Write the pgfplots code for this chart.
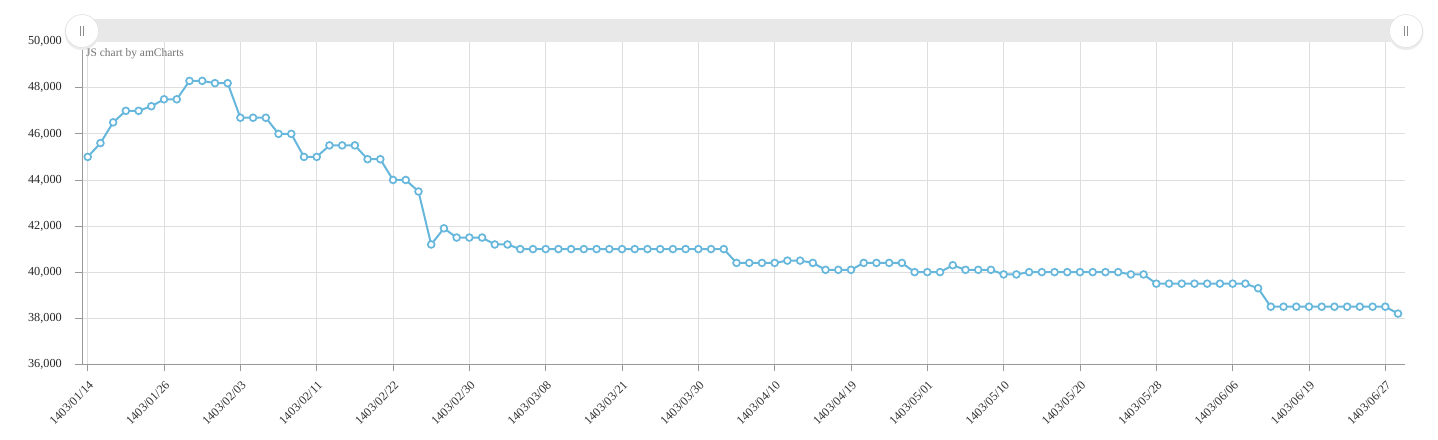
\documentclass[border=0pt]{standalone}
\usepackage{fontspec}
\setmainfont{Liberation Serif}
\usepackage{pgfplots}
\pgfplotsset{compat=1.18}
\definecolor{am}{HTML}{67B7DC}
\definecolor{gridc}{HTML}{DEDEDE}
\definecolor{axc}{HTML}{999999}
\definecolor{sbar}{HTML}{E8E8E8}

\begin{document}
\begin{tikzpicture}
\useasboundingbox (0,0) rectangle (1438bp,440bp);
\begin{axis}[
 at={(82bp,75.7bp)}, anchor=south west,
 scale only axis, width=1323bp, height=322.6bp,
 xmin=-0.45, xmax=103.55, ymin=36000, ymax=50000,
 ytick={36000,38000,...,50000},
 scaled y ticks=false,
 xtick={0,6,...,102},
 xticklabels={1403/01/14,1403/01/26,1403/02/03,1403/02/11,1403/02/22,1403/02/30,1403/03/08,1403/03/21,1403/03/30,1403/04/10,1403/04/19,1403/05/01,1403/05/10,1403/05/20,1403/05/28,1403/06/06,1403/06/19,1403/06/27},
 grid=major, major grid style={gridc, line width=0.8bp},
 axis x line*=bottom, axis y line*=left,
 axis line style={axc, line width=1bp, -},
 tick align=outside, major tick length=7bp, tick style={axc, line width=0.8bp},
 x tick label style={rotate=45, anchor=east, font=\fontsize{12.3}{14}\selectfont, xshift=-6bp, yshift=-11bp, inner sep=0pt, text=black!80},
 y tick label style={anchor=east, font=\fontsize{12.3}{14}\selectfont, xshift=-13bp, inner sep=0pt, text=black!85},
 /pgf/number format/1000 sep={,},
 /pgf/number format/assume math mode=true,
 clip=false,
]
\addplot[am, line width=2bp, mark=*, mark size=3.4bp, mark options={fill=white, draw=am, line width=1.7bp}] table {
x y
0 45000
1 45600
2 46500
3 47000
4 47000
5 47200
6 47500
7 47500
8 48300
9 48300
10 48200
11 48200
12 46700
13 46700
14 46700
15 46000
16 46000
17 45000
18 45000
19 45500
20 45500
21 45500
22 44900
23 44900
24 44000
25 44000
26 43500
27 41200
28 41900
29 41500
30 41500
31 41500
32 41200
33 41200
34 41000
35 41000
36 41000
37 41000
38 41000
39 41000
40 41000
41 41000
42 41000
43 41000
44 41000
45 41000
46 41000
47 41000
48 41000
49 41000
50 41000
51 40400
52 40400
53 40400
54 40400
55 40500
56 40500
57 40400
58 40100
59 40100
60 40100
61 40400
62 40400
63 40400
64 40400
65 40000
66 40000
67 40000
68 40300
69 40100
70 40100
71 40100
72 39900
73 39900
74 40000
75 40000
76 40000
77 40000
78 40000
79 40000
80 40000
81 40000
82 39900
83 39900
84 39500
85 39500
86 39500
87 39500
88 39500
89 39500
90 39500
91 39500
92 39300
93 38500
94 38500
95 38500
96 38500
97 38500
98 38500
99 38500
100 38500
101 38500
102 38500
103 38200
};
\end{axis}
% scrollbar
\fill[sbar] (82bp,398.3bp) rectangle (1405bp,421bp);
\foreach \cx in {82,1406}{
  \fill[black!8] (\cx bp,407.5bp) circle (17.5bp);
  \filldraw[fill=white, draw=black!12, line width=0.6bp] (\cx bp,409bp) circle (16.5bp);
  \draw[black!45, line width=0.7bp] (\cx bp-1.6bp,404bp) -- (\cx bp-1.6bp,414bp);
  \draw[black!45, line width=0.7bp] (\cx bp+1.6bp,404bp) -- (\cx bp+1.6bp,414bp);
}
\node[anchor=west, inner sep=0pt, text=black!55, font=\fontsize{11.5}{13}\selectfont] at (86bp,386bp) {JS chart by amCharts};
\end{tikzpicture}
\end{document}
